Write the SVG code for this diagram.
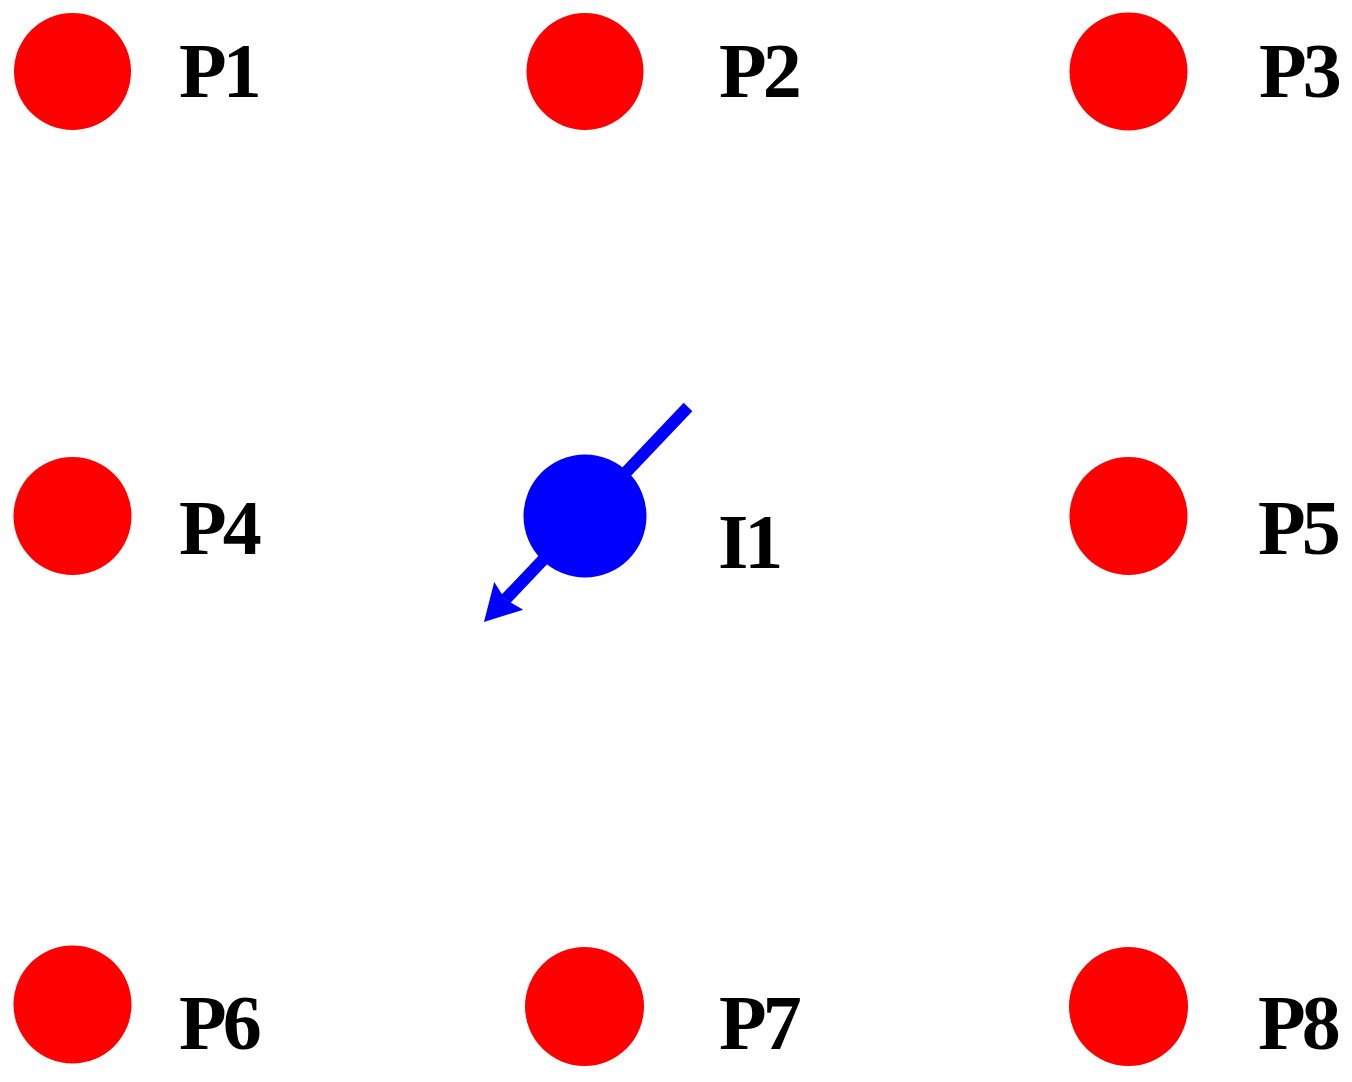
<svg xmlns="http://www.w3.org/2000/svg" width="1352" height="1082" viewBox="0 0 1352 1082">
<style>
.p{fill:#ff0000}
.i{fill:#0000ff}
.lbl{font-family:"Liberation Serif","Times New Roman",serif;font-weight:bold;font-size:78px;letter-spacing:-4px;fill:#000}
.conn{stroke:#0000ff;stroke-width:12;fill:none;stroke-linecap:butt}
</style>
<defs>
<marker id="ah" markerUnits="userSpaceOnUse" viewBox="-10 -22 45 44" markerWidth="45" markerHeight="44" refX="0" refY="0" orient="auto">
<path d="M31,0 L-5,-20 L0,0 L-5,20 Z" fill="#0000ff"/>
</marker>
</defs>
<rect width="1352" height="1082" fill="#fff"/>
<g id="P1"><circle class="p" cx="72.5" cy="71.5" r="58.5"/><text class="lbl" x="179" y="97">P1</text></g>
<g id="P2"><circle class="p" cx="585" cy="71.5" r="58.5"/><text class="lbl" x="719" y="97">P2</text></g>
<g id="P3"><circle class="p" cx="1128.5" cy="71.5" r="59"/><text class="lbl" x="1259" y="97">P3</text></g>
<g id="P4"><circle class="p" cx="72.5" cy="516" r="59"/><text class="lbl" x="179" y="554">P4</text></g>
<g id="P5"><circle class="p" cx="1128.5" cy="516" r="59"/><text class="lbl" x="1258" y="554">P5</text></g>
<g id="I1"><circle class="i" cx="585" cy="516" r="61.5"/><text class="lbl" x="718" y="568">I1</text></g>
<g id="P6"><circle class="p" cx="72.5" cy="1004.5" r="59"/><text class="lbl" x="179" y="1049">P6</text></g>
<g id="P7"><circle class="p" cx="584.5" cy="1006.5" r="59.5"/><text class="lbl" x="719" y="1049">P7</text></g>
<g id="P8"><circle class="p" cx="1128.5" cy="1006.5" r="59.5"/><text class="lbl" x="1258" y="1049">P8</text></g>
<g id="connectors">
<line class="conn" x1="688" y1="407" x2="505.3" y2="599.5" marker-end="url(#ah)"/>
</g>
</svg>
